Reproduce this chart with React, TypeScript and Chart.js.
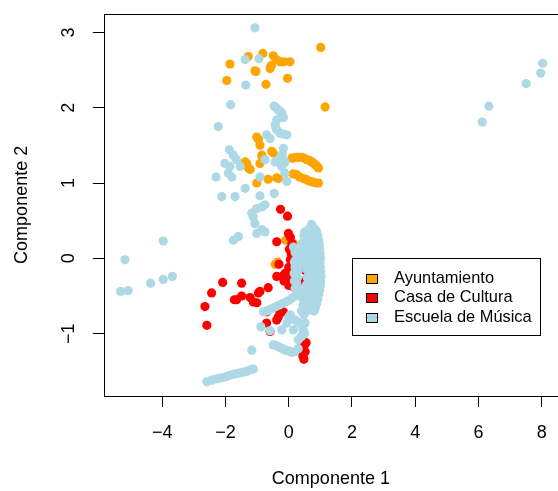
import { useEffect, useRef } from "react";
import { Chart, registerables } from "chart.js";

Chart.register(...registerables);

const FONT = '"Liberation Sans", Arial, Helvetica, sans-serif';

// Series names and colours
const seriesNames = ["Ayuntamiento", "Casa de Cultura", "Escuela de Música"];
const seriesColors = ["#FFA500", "#FF0000", "#ADD8E6"];

// Axis titles
const xTitle = "Componente 1";
const yTitle = "Componente 2";

// Axis limits (the plot frame reaches x = 8.57, just past the canvas edge)
const xLimits = [-5.85, 8.517];
const xFrameMax = 8.57;
const yLimits = [-1.828, 3.248];
const xTickStep = 2;
const yTickStep = 1;

// Legend anchor (top-left corner, data units)
const legendAnchor = [2, 0];

// Ayuntamiento
const ayuntamientoX = [
  1.01, -1.28, -0.82, -0.49, -1.86, -1.07, -1.04, -0.59, -0.4, -0.28, -0.15, 0.04, -1.96, -0.72, -0.04, 1.15, -0.55,
  -1.01, -0.96, -0.91, -0.85, -0.54, -0.49, -1.38, -1.33, -1.28, -1.22, -0.91, -0.85, -1.01, -0.65, -0.38, -0.33,
  0.1, 0.17, 0.25, 0.33, 0.41, 0.49, 0.57, 0.65, 0.73, 0.79, 0.85, 0.9, 0.94,
  0.14, 0.25, 0.35, 0.46, 0.54, 0.62, 0.7, 0.78, 0.86, 0.94,
  -0.1, 0.05, 0.15, -0.43, -0.35, 0.38, 0.48, 0.2,
];
const ayuntamientoY = [
  2.8, 2.68, 2.72, 2.69, 2.58, 2.49, 2.48, 2.52, 2.64, 2.61, 2.61, 2.61, 2.36, 2.31, 2.39, 2.01, 2.56,
  1.61, 1.58, 1.5, 1.37, 1.42, 1.4, 1.28, 1.26, 1.2, 1.18, 1.26, 1.36, 1.0, 1.05, 1.07, 1.06,
  1.33, 1.335, 1.34, 1.34, 1.34, 1.33, 1.31, 1.3, 1.28, 1.26, 1.24, 1.22, 1.2,
  1.12, 1.11, 1.08, 1.06, 1.05, 1.03, 1.02, 1.01, 1.0, 1.0,
  0.24, 0.22, 0.2, -0.08, -0.05, -0.01, -0.05, 0.05,
];

// Casa de Cultura
const casaX = [
  -0.26, -0.04, -0.01, -0.38, -0.31, -0.38, -0.12, -0.65, -0.96, -1.12, -1.22, -1.49, -1.49, -1.65, -1.72, -2.09,
  -2.44, -2.65, -2.59, -0.7, -0.7, -0.59, -0.28, -0.38, -1.01, -0.91, -0.17, -0.33,
  0.05, 0.1, 0.02, 0.08, 0.05, 0.1, 0.0, 0.05, -0.05, 0.1, 0.15, 0.0, -0.15, -0.2,
  0.52, 0.57, 0.5, 0.25,
  0.41, 0.46, 0.5, 0.46, 0.42, 0.45, 0.48, 0.52, 0.55,
];
const casaY = [
  0.65, 0.56, 0.33, 0.22, -0.08, -0.24, -0.2, -0.39, -0.46, -0.58, -0.52, -0.5, -0.33, -0.55, -0.55, -0.32,
  -0.46, -0.64, -0.89, -0.71, -0.86, -0.97, -0.71, -0.82, -0.59, -0.44, -0.71, -0.78,
  0.28, 0.2, 0.12, 0.05, -0.02, -0.1, -0.12, -0.2, -0.28, -0.3, -0.38, -0.36, -0.3, -0.24,
  -0.16, -0.42, -0.3, -0.42,
  -1.04, -1.1, -1.15, -1.2, -1.25, -1.3, -1.34, -1.24, -1.12,
];

// Escuela de Música
const escuelaX = [
  -1.07, -1.38, -0.94, -1.36, -1.84, -2.23,
  8.03, 7.97, 7.51, 6.33, 6.12,
  -5.18, -5.32, -5.08, -4.37, -3.97, -3.68, -3.97,
  -0.46, -0.4, -0.33, -0.27, -0.22, -0.17, -0.38, -0.43, -0.4, -0.36, -0.28, -0.18, -0.06, -0.7, -0.59,
  -1.88, -1.75, -1.65, -2.02, -1.86, -1.54, -1.91, -1.8, -2.3, -2.12, -1.7, -1.38,
  -0.91, -0.75, -0.43, -0.17, -0.28, -0.22, -0.12, -0.06, -0.2, -0.12, -0.91, -0.46,
  -0.75, -0.85, -1.01, -1.17, -1.12, -1.07, -1.01, -0.75, -0.85, -1.75, -1.59, -1.17,
  -2.59, -2.45, -2.38, -2.27, -2.17, -2.06, -1.96, -1.85, -1.75, -1.64, -1.54, -1.43, -1.33, -1.22, -1.12,
  0.72, 0.8, 0.88, 0.92, 0.95, 0.97, 0.98, 0.99, 1.0, 0.99, 1.0, 1.01, 1.02, 1.01, 1.0, 0.98, 0.95, 0.92, 0.88, 0.84, 0.8,
  0.78, 0.8, 0.82, 0.84, 0.85, 0.86, 0.86, 0.84, 0.8, 0.76,
  0.62, 0.6, 0.62, 0.65, 0.66, 0.68, 0.7, 0.72, 0.7, 0.66, 0.62, 0.58,
  0.5, 0.52, 0.54, 0.55, 0.56, 0.57, 0.58, 0.56, 0.53, 0.5, 0.5, 0.48,
  0.42, 0.38, 0.35, 0.33, 0.3, 0.28, 0.25, 0.3, 0.35, 0.42, 0.45, 0.4,
  0.15, 0.2, 0.48, 0.5, 0.52, 0.18, 0.17, 0.22, 0.2, 0.18, 0.2,
  0.2, 0.1, 0.0, -0.1, -0.2, -0.3, -0.4, -0.5, -0.6, -0.7, -0.8, -0.88, -0.59,
  0.0, 0.1, 0.2, 0.3, 0.4, 0.52, 0.45, 0.5, 0.4, 0.3, -0.22, -0.06, 0.15, 0.05,
  -0.49, -0.4, -0.3, -0.2, -0.1, 0.0, 0.1, 0.2, 0.3,
];
const escuelaY = [
  3.06, 2.64, 2.65, 2.3, 2.04, 1.75,
  2.59, 2.46, 2.32, 2.02, 1.81,
  -0.02, -0.44, -0.43, -0.33, -0.28, -0.24, 0.23,
  2.02, 2.0, 1.97, 1.95, 1.93, 1.87, 1.84, 1.77, 1.72, 1.7, 1.66, 1.65, 1.64, 1.64, 1.59,
  1.44, 1.37, 1.31, 1.26, 1.22, 1.22, 1.13, 1.08, 1.08, 0.82, 0.82, 0.93,
  1.08, 1.31, 1.28, 1.46, 1.33, 1.22, 1.13, 1.02, 1.38, 1.28, 0.83, 0.86,
  0.71, 0.68, 0.66, 0.6, 0.55, 0.46, 0.33, 0.35, 0.38, 0.24, 0.29, -1.22,
  -1.64, -1.62, -1.61, -1.6, -1.59, -1.58, -1.57, -1.55, -1.54, -1.53, -1.52, -1.51, -1.5, -1.48, -1.47,
  0.45, 0.4, 0.36, 0.3, 0.24, 0.18, 0.12, 0.06, 0.0, -0.06, -0.12, -0.18, -0.24, -0.3, -0.36, -0.42, -0.48, -0.54, -0.6, -0.66, -0.7,
  0.3, 0.2, 0.1, 0.0, -0.1, -0.2, -0.3, -0.4, -0.5, -0.6,
  0.38, 0.3, 0.2, 0.1, 0.0, -0.1, -0.2, -0.3, -0.4, -0.5, -0.6, -0.7,
  0.35, 0.25, 0.15, 0.05, -0.05, -0.15, -0.25, -0.35, -0.45, -0.55, -0.65, -0.75,
  0.2, 0.1, 0.0, -0.08, -0.16, -0.25, -0.33, -0.4, -0.46, -0.52, -0.62, -0.7,
  0.15, 0.08, 0.3, 0.12, -0.08, -0.05, -0.2, -0.02, -0.12, -0.3, -0.4,
  -0.5, -0.53, -0.56, -0.58, -0.6, -0.62, -0.64, -0.66, -0.68, -0.7, -0.71, -0.91, -0.96,
  -0.78, -0.8, -0.82, -0.85, -0.88, -0.86, -0.95, -1.0, -1.04, -1.08, -0.95, -0.86, -0.95, -0.75,
  -1.15, -1.16, -1.18, -1.2, -1.22, -1.23, -1.25, -1.24, -1.2,
];

const seriesX = [ayuntamientoX, casaX, escuelaX];
const seriesY = [ayuntamientoY, casaY, escuelaY];

const formatTick = (v: number) => (v < 0 ? "\u2212" + Math.abs(v) : String(v));

// Fix an axis' thickness and drop the extra room Chart.js reserves for edge labels
const fixAxis = (size: number) => (s: any) => {
  if (s.isHorizontal()) s.height = size;
  else s.width = size;
  s.paddingTop = 0;
  s.paddingBottom = 0;
  s.paddingLeft = 0;
  s.paddingRight = 0;
};

// Frame around the plotting region
const framePlugin = {
  id: "frame",
  afterDraw(chart: any) {
    const { ctx, chartArea, scales } = chart;
    ctx.save();
    ctx.strokeStyle = "#000";
    ctx.lineWidth = 1;
    const l = Math.round(chartArea.left) + 0.5;
    const t = Math.round(chartArea.top) + 0.5;
    const r = Math.round(scales.x.getPixelForValue(xFrameMax)) + 0.5;
    const b = Math.round(chartArea.bottom) + 0.5;
    ctx.strokeRect(l, t, r - l, b - t);
    ctx.restore();
  },
};

// Boxed legend with filled squares, anchored in data coordinates
const boxLegendPlugin = {
  id: "boxLegend",
  afterDraw(chart: any) {
    const { ctx, scales } = chart;
    const x0 = scales.x.getPixelForValue(legendAnchor[0]);
    const y0 = scales.y.getPixelForValue(legendAnchor[1]);
    const fontSize = 16.4;
    ctx.save();
    ctx.font = `${fontSize}px ${FONT}`;
    const maxW = Math.max(...seriesNames.map((n) => ctx.measureText(n).width));
    const textLeft = 42.1;
    const rowGap = 19.35;
    const firstRow = 20;
    const w = textLeft + maxW + 8;
    const h = firstRow * 2 + rowGap * (seriesNames.length - 1) - 2;
    const bx = Math.round(x0) + 0.5;
    const by = Math.round(y0) + 0.5;
    ctx.fillStyle = "#fff";
    ctx.fillRect(bx, by, w, h);
    ctx.strokeStyle = "#000";
    ctx.lineWidth = 1;
    ctx.strokeRect(bx, by, Math.round(w), Math.round(h));
    seriesNames.forEach((name, i) => {
      const cy = y0 + firstRow + i * rowGap;
      const sw = 10.6;
      const sh = 8.8;
      const sx = Math.round(x0 + 13.8) + 0.5;
      const sy = Math.round(cy - sh / 2) + 0.5;
      ctx.fillStyle = seriesColors[i];
      ctx.fillRect(sx, sy, Math.round(sw), Math.round(sh));
      ctx.strokeStyle = "#000";
      ctx.strokeRect(sx, sy, Math.round(sw), Math.round(sh));
      ctx.fillStyle = "#000";
      ctx.textAlign = "left";
      ctx.textBaseline = "middle";
      ctx.fillText(name, x0 + textLeft, cy);
    });
    ctx.restore();
  },
};

export default function App() {
  const canvasRef = useRef<HTMLCanvasElement | null>(null);

  useEffect(() => {
    const canvas = canvasRef.current;
    if (!canvas) return;

    const datasets = seriesNames.map((name, i) => ({
      label: name,
      data: seriesX[i].map((x, j) => ({ x, y: seriesY[i][j] })),
      backgroundColor: seriesColors[i],
      borderColor: seriesColors[i],
      borderWidth: 0,
      pointRadius: 4.6,
      pointHoverRadius: 4.6,
      // later groups are painted over earlier ones
      order: seriesNames.length - 1 - i,
    }));

    const chart = new Chart(canvas, {
      type: "scatter",
      data: { datasets },
      options: {
        responsive: false,
        devicePixelRatio: 1,
        animation: false,
        layout: { autoPadding: false, padding: { left: 0, top: 13.7, right: 0, bottom: 0 } },
        plugins: {
          legend: { display: false },
          tooltip: { enabled: false },
        },
        scales: {
          x: {
            type: "linear",
            position: "bottom",
            min: xLimits[0],
            max: xLimits[1],
            border: { display: false },
            grid: {
              display: true,
              drawOnChartArea: false,
              drawTicks: true,
              tickLength: 11,
              color: "#000",
              lineWidth: 1,
            },
            ticks: {
              stepSize: xTickStep,
              includeBounds: false,
              color: "#000",
              font: { family: FONT, size: 18 },
              padding: 15,
              maxRotation: 0,
              autoSkip: false,
              callback: (v: any) => formatTick(Number(v)),
            },
            title: {
              display: true,
              text: xTitle,
              color: "#000",
              font: { family: FONT, size: 18 },
              padding: { top: 0, bottom: 1 },
            },
            afterFit: fixAxis(95),
          },
          y: {
            type: "linear",
            position: "left",
            min: yLimits[0],
            max: yLimits[1],
            border: { display: false },
            grid: {
              display: true,
              drawOnChartArea: false,
              drawTicks: true,
              tickLength: 11,
              color: "#000",
              lineWidth: 1,
            },
            ticks: {
              stepSize: yTickStep,
              includeBounds: false,
              color: "#000",
              font: { family: FONT, size: 18 },
              padding: 13.75,
              minRotation: 90,
              maxRotation: 90,
              crossAlign: "center",
              autoSkip: false,
              callback: (v: any) => formatTick(Number(v)),
            },
            title: {
              display: true,
              text: yTitle,
              color: "#000",
              font: { family: FONT, size: 18 },
              padding: { top: 11.2, bottom: 0 },
            },
            afterFit: fixAxis(103.8),
          },
        },
      } as any,
      plugins: [framePlugin, boxLegendPlugin],
    });

    return () => chart.destroy();
  }, []);

  return (
    <div style={{ position: "absolute", left: 0, top: 0, width: 558, height: 491, background: "#fff" }}>
      <canvas ref={canvasRef} width={558} height={491} style={{ display: "block", width: 558, height: 491 }} />
    </div>
  );
}
